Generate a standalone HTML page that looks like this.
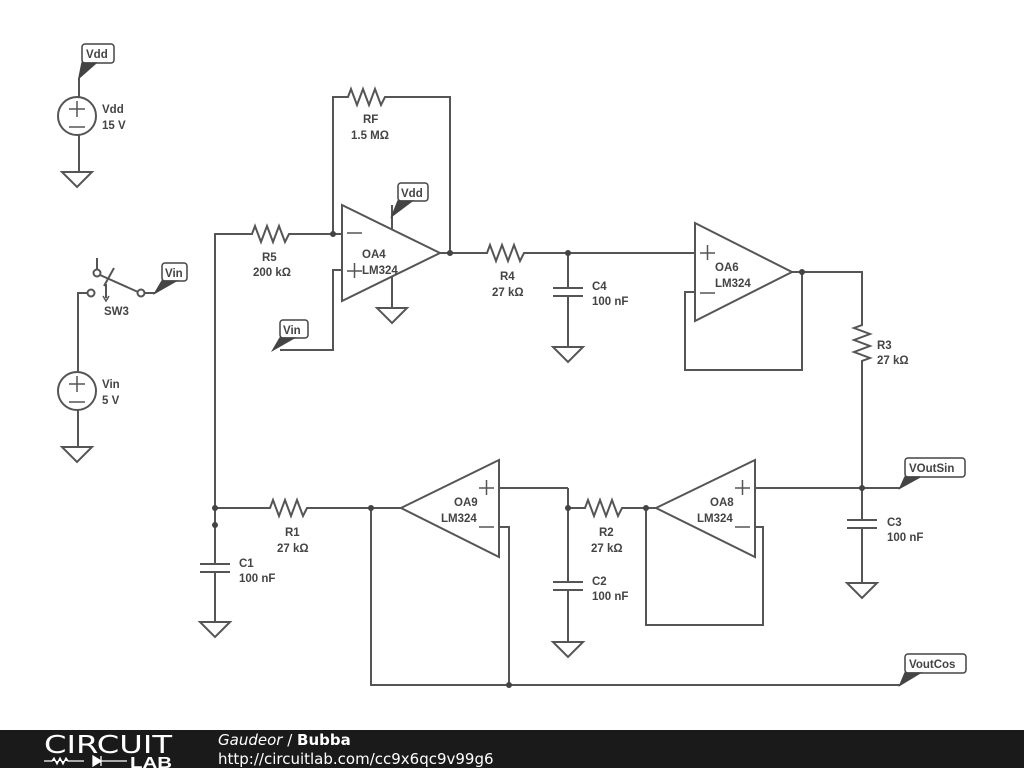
<!DOCTYPE html>
<html><head><meta charset="utf-8"><style>
html,body{margin:0;padding:0;background:#fff;}
svg{display:block;}
text{font-family:"Liberation Sans",Arial,sans-serif;font-weight:bold;font-size:11.5px;fill:#444;}
.f{font-family:"DejaVu Sans","Liberation Sans",sans-serif;font-weight:normal;fill:#fff;font-size:15px;}
</style></head><body>
<svg width="1024" height="768" viewBox="0 0 1024 768" xmlns="http://www.w3.org/2000/svg">
<g fill="none" stroke="#555" stroke-width="2" stroke-linejoin="miter">
<!-- Vdd source -->
<path d="M79,78 V97 M79,135 V172"/>
<circle cx="77" cy="116" r="19"/>
<path d="M69,109 h16 M77,101 v16 M69,127 h16" stroke-width="1.5"/>
<path d="M62,172 h30 l-15,15 z"/>
<!-- switch -->
<path d="M97,258 V270"/>
<circle cx="97" cy="273" r="3.5" fill="#fff"/>
<circle cx="91" cy="293" r="3.5" fill="#fff"/>
<circle cx="141" cy="293" r="3.5" fill="#fff"/>
<path d="M100,275 L138,292 M87,293 H78 V372 M145,293 H155 M114,268 L104,286 M106,284 V298"/>
<path d="M103,296 l3,5 l3,-5" stroke-width="1.5"/>
<!-- Vin source -->
<circle cx="77" cy="391" r="19"/>
<path d="M69,384 h16 M77,376 v16 M69,402 h16" stroke-width="1.5"/>
<path d="M78,410 V447 M62,447 h30 l-15,15 z"/>
<!-- OA4 -->
<path d="M342,205 L440,253 L342,301 Z"/>
<path d="M347,233 h15 M347,271 h15 M354.5,263 v15" stroke-width="1.5"/>
<path d="M392,229 V205 M392,277 V308 M377,308 h30 l-15,15 z"/>
<path d="M440,253 H487 l3,-8 l6,16 l6,-16 l6,16 l6,-16 l6,16 l4,-8 H695"/>
<path d="M215,508 V234 H252 l3,-8 l6,16 l6,-16 l6,16 l6,-16 l6,16 l4,-8 H342"/>
<path d="M333,234 V97 H348 l3,-8 l6,16 l6,-16 l6,16 l6,-16 l6,16 l4,-8 H450 V253"/>
<path d="M280,350 H333 V270 H342"/>
<!-- C4 -->
<path d="M568,253 V288 M553,288 h30 M553,296 h30 M568,296 V347 M553,347 h30 l-15,15 z"/>
<!-- OA6 -->
<path d="M695,223 L792,272 L695,321 Z"/>
<path d="M700,253 h15 M707.5,245 v15 M700,293 h15" stroke-width="1.5"/>
<path d="M695,292 H685 V370 H802 V272 M792,272 H862 V325 l-8,3 l16,6 l-16,6 l16,6 l-16,6 l16,6 l-8,3 V488 M755,488 H900"/>
<!-- C3 -->
<path d="M862,488 V520 M847,520 h30 M847,528 h30 M862,528 V583 M847,583 h30 l-15,15 z"/>
<!-- OA8 -->
<path d="M755,460 L656,508 L755,557 Z"/>
<path d="M735,488 h15 M742.5,480 v15 M735,527 h15" stroke-width="1.5"/>
<path d="M755,527 H763 V625 H646 V508 H656"/>
<path d="M568,508 H585 l3,-8 l6,16 l6,-16 l6,16 l6,-16 l6,16 l4,-8 H646"/>
<path d="M568,488 V582 M553,582 h30 M553,590 h30 M568,590 V642 M553,642 h30 l-15,15 z"/>
<path d="M568,488 H499"/>
<!-- OA9 -->
<path d="M499,460 L401,508 L499,557 Z"/>
<path d="M479,488 h15 M486.5,480 v15 M479,527 h15" stroke-width="1.5"/>
<path d="M499,527 H509 V685 M371,508 V685 H900"/>
<path d="M215,508 H270 l3,-8 l6,16 l6,-16 l6,16 l6,-16 l6,16 l4,-8 H401"/>
<!-- C1 -->
<path d="M215,508 V564 M200,564 h30 M200,572 h30 M215,572 V622 M200,622 h30 l-15,15 z"/>
</g>
<g fill="#444">
<circle cx="333" cy="234" r="3"/><circle cx="450" cy="253" r="3"/><circle cx="568" cy="253" r="3"/>
<circle cx="802" cy="272" r="3"/><circle cx="862" cy="488" r="3"/><circle cx="646" cy="508" r="3"/>
<circle cx="568" cy="508" r="3"/><circle cx="371" cy="508" r="3"/><circle cx="509" cy="685" r="3"/>
<circle cx="215" cy="508" r="3"/><circle cx="215" cy="525" r="3"/>
</g>
<!-- net labels -->
<g stroke="#444" stroke-width="1.5">
<rect x="82" y="44" width="32" height="19" rx="3" fill="#fff"/>
<path d="M79,78 L82,63 L96,63 Z" fill="#444"/>
<rect x="162" y="263" width="25" height="18" rx="3" fill="#fff"/>
<path d="M155,293 L162,281 L176,281 Z" fill="#444"/>
<rect x="398" y="183" width="30" height="18" rx="3" fill="#fff"/>
<path d="M392,216 L398,201 L412,201 Z" fill="#444"/>
<rect x="280" y="320" width="28" height="18" rx="3" fill="#fff"/>
<path d="M273,350 L280,338 L294,338 Z" fill="#444"/>
<rect x="905" y="458" width="60" height="19" rx="3" fill="#fff"/>
<path d="M900,488 L905,477 L920,477 Z" fill="#444"/>
<rect x="905" y="654" width="61" height="19" rx="3" fill="#fff"/>
<path d="M900,685 L905,673 L920,673 Z" fill="#444"/>
</g>
<text x="86" y="58">Vdd</text>
<text x="165" y="277">Vin</text>
<text x="401" y="197">Vdd</text>
<text x="283" y="334">Vin</text>
<text x="909" y="472">VOutSin</text>
<text x="909" y="668">VoutCos</text>
<text x="102" y="113">Vdd</text><text x="102" y="129">15 V</text>
<text x="102" y="388">Vin</text><text x="102" y="404">5 V</text>
<text x="104" y="315">SW3</text>
<text x="363" y="123">RF</text><text x="351" y="139">1.5 MΩ</text>
<text x="262" y="261">R5</text><text x="253" y="276">200 kΩ</text>
<text x="362" y="258">OA4</text><text x="362" y="274">LM324</text>
<text x="500" y="280">R4</text><text x="492" y="296">27 kΩ</text>
<text x="592" y="290">C4</text><text x="592" y="305">100 nF</text>
<text x="715" y="271">OA6</text><text x="715" y="287">LM324</text>
<text x="877" y="349">R3</text><text x="877" y="364">27 kΩ</text>
<text x="887" y="526">C3</text><text x="887" y="541">100 nF</text>
<text x="710" y="506">OA8</text><text x="697" y="522">LM324</text>
<text x="454" y="506">OA9</text><text x="441" y="522">LM324</text>
<text x="599" y="536">R2</text><text x="591" y="552">27 kΩ</text>
<text x="592" y="585">C2</text><text x="592" y="600">100 nF</text>
<text x="285" y="536">R1</text><text x="277" y="552">27 kΩ</text>
<text x="239" y="567">C1</text><text x="239" y="582">100 nF</text>
<!-- footer -->
<rect x="0" y="730" width="1024" height="38" fill="#1a1a1a"/>
<text x="44" y="753" textLength="128" lengthAdjust="spacingAndGlyphs" style="font-family:'DejaVu Sans',sans-serif;font-weight:normal;font-size:25px;fill:#fff">CIRCUIT</text>
<path d="M44,761 h8 l2,-3 l3,6 l3,-6 l3,6 l3,-6 l2,3 h16 M93,756 v10 l8,-5 z M101,756 v10 M101,761 h26" stroke="#fff" stroke-width="1.3" fill="#fff"/>
<text x="130" y="768" textLength="42" lengthAdjust="spacingAndGlyphs" style="font-family:'Liberation Sans',sans-serif;font-weight:bold;font-size:16px;fill:#fff">LAB</text>
<text x="218" y="745" class="f"><tspan font-style="italic">Gaudeor</tspan> / <tspan font-weight="bold">Bubba</tspan></text>
<text x="218" y="764" class="f">http://circuitlab.com/cc9x6qc9v99g6</text>
</svg>
</body></html>
